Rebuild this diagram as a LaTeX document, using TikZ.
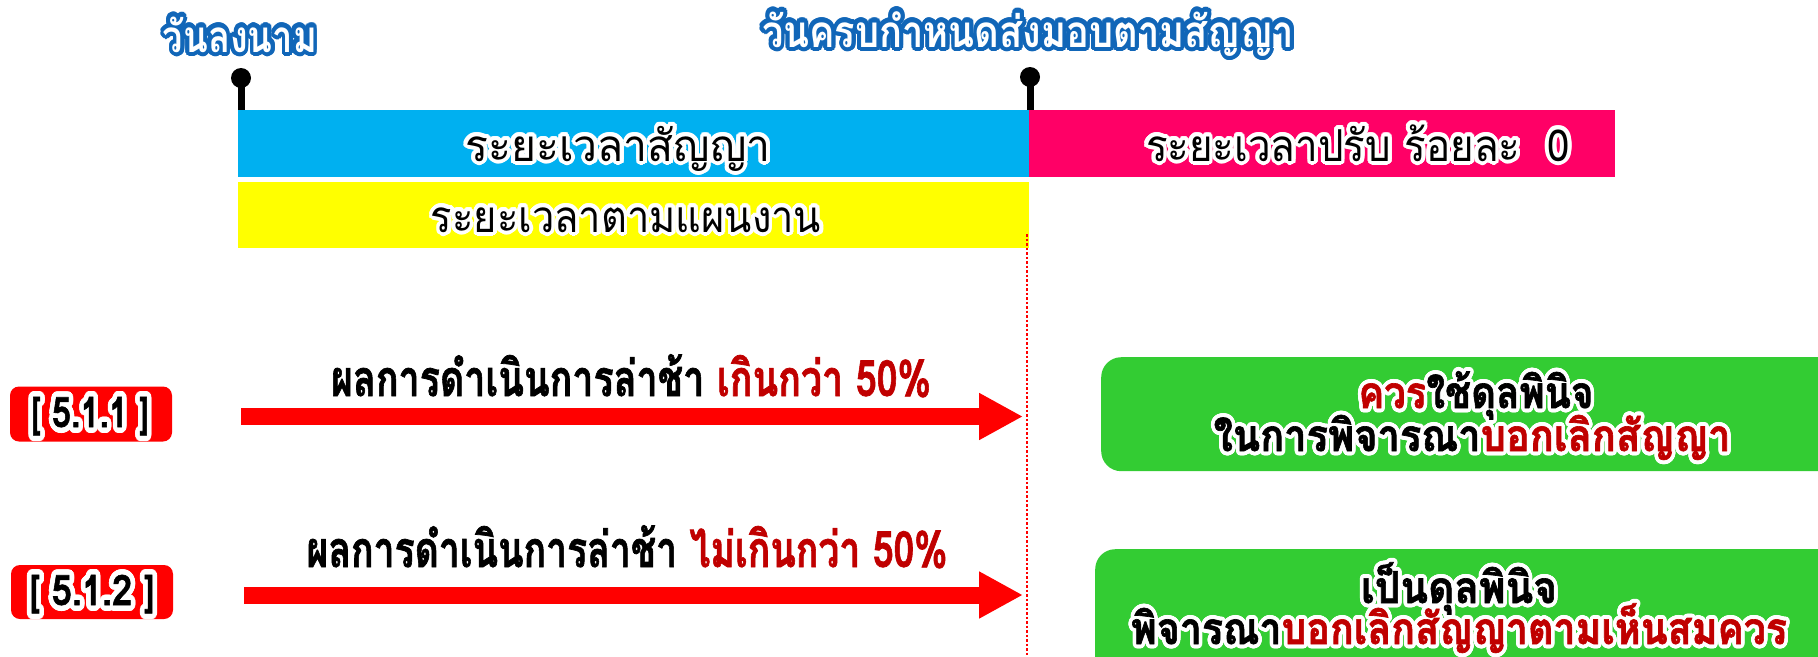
\documentclass[tikz,border=0pt]{standalone}
\usepackage{fontspec}
\usepackage{graphicx}
\usepackage[copies]{contour}
\usetikzlibrary{arrows.meta}
\newfontfamily\thai[Script=Thai]{Loma}
\newfontfamily\thaib[Script=Thai,FakeBold=1.5]{Loma Bold}
\newfontfamily\thaim[Script=Thai]{Loma Bold}
\definecolor{barblue}{HTML}{00B0F0}
\definecolor{barpink}{HTML}{FF0066}
\definecolor{baryellow}{HTML}{FFFF00}
\definecolor{boxgreen}{HTML}{33CC33}
\definecolor{dkred}{HTML}{C00000}
\definecolor{glowblue}{HTML}{1166B8}
\contournumber{24}
\newcommand{\fitw}[2]{\resizebox{#1}{\height}{#2}}
\newcommand{\wg}[1]{\contourlength{4pt}\contour{white}{#1}}
\newcommand{\wgb}[1]{\contourlength{5.5pt}\contour{white}{#1}}
\newcommand{\bg}[1]{\textcolor{white}{\contourlength{4.5pt}\contour{glowblue}{#1}}}
\begin{document}
\begin{tikzpicture}[x=1pt,y=-1pt,
  bar/.style={draw=none, minimum height=67pt, inner sep=0pt, anchor=north west},
  pinhead/.style={circle, fill=black, minimum size=20pt, inner sep=0pt},
  stem/.style={line width=7pt, black},
  txt/.style={inner sep=0pt, anchor=base, font=\thai\fontsize{44}{48}\selectfont},
  ttl/.style={inner sep=0pt, anchor=base, font=\thaim\fontsize{44}{48}\selectfont},
  btxt/.style={inner sep=0pt, anchor=base, font=\thaib\fontsize{44}{48}\selectfont},
  bigarrow/.style={red, line width=17pt, -{Triangle[length=44pt,width=44pt]}},
  limit/.style={red, line width=2.5pt, dotted},
  tag/.style={fill=red, rounded corners=9pt, minimum width=162pt, minimum height=55pt, inner sep=0pt},
  gbox/.style={fill=boxgreen, rounded corners=20pt, inner sep=0pt, anchor=north west}
]
\useasboundingbox (0,0) rectangle (1818,656);
\clip (0,0) rectangle (1818,656);

% bars
\node[bar, fill=barblue, minimum width=792pt] (blue) at (238,110) {};
\node[bar, fill=barpink, minimum width=586pt] (pink) at (1029,110) {};
\node[bar, fill=baryellow, minimum width=791pt, minimum height=66pt] (yellow) at (238,182) {};

% bar texts
\node[txt] (tblue) at (618,161) {\fitw{305pt}{\wg{ระยะเวลาสัญญา}}};
\node[txt] (tpink) at (1358,161) {\fitw{424pt}{\wg{ระยะเวลาปรับ ร้อยละ~~0}}};
\node[txt] (tyellow) at (626,232) {\fitw{390pt}{\wg{ระยะเวลาตามแผนงาน}}};

% pins
\node[pinhead] (p1) at (241,78) {};
\coordinate (p1b) at (241,110);
\draw[stem] (p1.center) -- (p1b);
\node[pinhead] (p2) at (1030,77) {};
\coordinate (p2b) at (1030,110);
\draw[stem] (p2.center) -- (p2b);

% titles
\node[ttl] (title1) at (240,52) {\fitw{154pt}{\bg{วันลงนาม}}};
\node[ttl] (title2) at (1028,47) {\fitw{532pt}{\bg{วันครบกำหนดส่งมอบตามสัญญา}}};

% deadline line
\coordinate (d1) at (1027,234);
\coordinate (d2) at (1027,656);
\draw[limit] (d1) -- (d2);

% tags
\node[tag] (tag1) at (91,414) {};
\node[btxt, font=\thaib\fontsize{42}{46}\selectfont] (tag1t) at (90,427) {\fitw{118pt}{\wgb{[ 5.1.1 ]}}};
\node[tag, minimum height=54pt] (tag2) at (92,592) {};
\node[btxt, font=\thaib\fontsize{42}{46}\selectfont] (tag2t) at (92,605) {\fitw{125pt}{\wgb{[ 5.1.2 ]}}};

% arrows
\coordinate (a1s) at (241,416.5);
\coordinate (a1e) at (1023,416.5);
\draw[bigarrow] (a1s) -- (a1e);
\coordinate (a2s) at (244,595);
\coordinate (a2e) at (1023,595);
\draw[bigarrow] (a2s) -- (a2e);

\node[btxt, font=\thaib\fontsize{50}{54}\selectfont] (l1) at (631,396) {\fitw{600pt}{ผลการดำเนินการล่าช้า \textcolor{dkred}{เกินกว่า 50\%}}};
\node[btxt, font=\thaib\fontsize{50}{54}\selectfont] (l2) at (627,567) {\fitw{641pt}{ผลการดำเนินการล่าช้า \textcolor{dkred}{ไม่เกินกว่า 50\%}}};

% green boxes
\node[gbox, minimum width=760pt, minimum height=114pt] (g1) at (1101,357) {};
\node[gbox, minimum width=770pt, minimum height=140pt] (g2) at (1095,549) {};

\node[btxt] (g1a) at (1476,408) {\fitw{235pt}{\textcolor{dkred}{\wg{ควร}}\wg{ใช้ดุลพินิจ}}};
\node[btxt] (g1b) at (1472,451) {\fitw{517pt}{\wg{ในการพิจารณา}\textcolor{dkred}{\wg{บอกเลิกสัญญา}}}};
\node[btxt] (g2a) at (1459,603) {\fitw{196pt}{\wg{เป็นดุลพินิจ}}};
\node[btxt] (g2b) at (1459,644) {\fitw{656pt}{\wg{พิจารณา}\textcolor{dkred}{\wg{บอกเลิกสัญญาตามเห็นสมควร}}}};
\end{tikzpicture}
\end{document}
